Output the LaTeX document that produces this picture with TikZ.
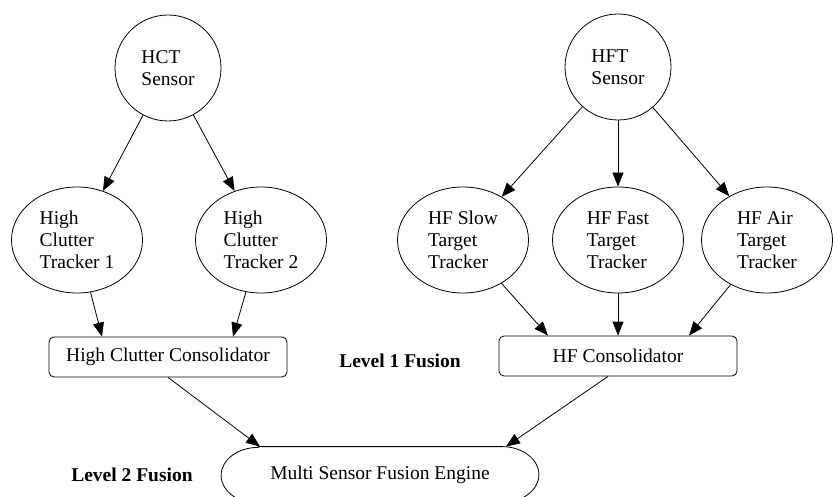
\documentclass[tikz,border=0pt]{standalone}
\usepackage{fontspec}
\setmainfont{Liberation Serif}
\usetikzlibrary{arrows.meta,shapes.geometric}
\begin{document}
\begin{tikzpicture}[x=1pt,y=1pt,line width=0.8pt,
  font=\fontsize{19.5}{22}\selectfont,
  sensor/.style={draw,circle,minimum size=106pt,inner sep=0pt,align=left},
  tracker/.style={draw,ellipse,minimum width=131pt,minimum height=106pt,inner sep=0pt,align=left},
  consol/.style={draw,rectangle,rounded corners=5pt,minimum width=238pt,minimum height=40pt},
  level/.style={font=\fontsize{19.5}{22}\selectfont\bfseries},
  arr/.style={-{Triangle[length=14pt,width=11pt]}}]
\useasboundingbox (0,0) rectangle (833,496);
\clip (0,0) rectangle (833,496);
% the two sensors
\node[sensor] (hct) at (168,428) {HCT\\Sensor};
\node[sensor] (hft) at (618,429) {HFT\\Sensor};
% the trackers
\node[tracker] (t1) at (77,256) {High\\Clutter\\Tracker 1};
\node[tracker] (t2) at (261,256) {High\\Clutter\\Tracker 2};
\node[tracker] (slow) at (463,256) {HF Slow\\Target\\Tracker};
\node[tracker] (fast) at (618,256) {HF Fast\\Target\\Tracker};
\node[tracker] (air) at (767,256) {HF Air\\Target\\Tracker};
% level 1 fusion
\node[consol] (hcc) at (168,139) {High Clutter Consolidator};
\node[consol] (hfc) at (618,140) {HF Consolidator};
\node[level] (lvl1) at (400,135) {Level 1 Fusion};
% level 2 fusion
\node[minimum width=317pt,minimum height=56pt,inner sep=0pt] (engine) at (380,21) {Multi Sensor Fusion Engine};
\draw ([xshift=37pt]engine.north west) -- ([xshift=-37pt]engine.north east)
  arc[start angle=90,end angle=-90,x radius=37pt,y radius=28pt]
  -- ([xshift=37pt]engine.south west)
  arc[start angle=270,end angle=90,x radius=37pt,y radius=28pt] -- cycle;
\node[level] (lvl2) at (132,21) {Level 2 Fusion};
% sensors to trackers
\foreach \t in {t1,t2}
  \draw[arr] (hct) -- (\t);
\foreach \t in {slow,fast,air}
  \draw[arr] (hft) -- (\t);
% trackers to consolidators
\draw[arr] (t1) -- ([xshift=-66pt]hcc.north);
\draw[arr] (t2) -- ([xshift=65pt]hcc.north);
\draw[arr] (slow) -- ([xshift=-70pt]hfc.north);
\draw[arr] (fast) -- (hfc.north);
\draw[arr] (air) -- ([xshift=71pt]hfc.north);
% consolidators to the engine
\draw[arr] (hcc.south) -- ([xshift=-120pt]engine.north);
\draw[arr] ([xshift=-10pt]hfc.south) -- ([xshift=126pt]engine.north);
\end{tikzpicture}
\end{document}
